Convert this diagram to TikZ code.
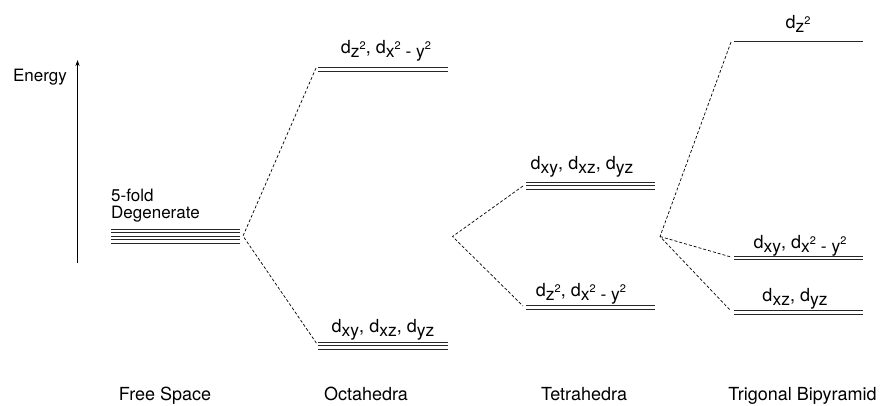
\documentclass[tikz,border=0pt]{standalone}
\usepackage{fontspec}
\setmainfont{TeX Gyre Heros}
\usetikzlibrary{arrows.meta}
\newcommand{\lowtxt}[1]{\raisebox{-0.45ex}{\fontsize{17.5}{17.5}\selectfont #1}}
\newcommand{\sqr}{\raisebox{0.8ex}{\fontsize{11}{11}\selectfont 2}}
\tikzset{
  level/.style={line width=1pt,black!85},
  split/.style={dash pattern=on 3pt off 2pt,line width=0.7pt},
  lbl/.style={anchor=base,inner sep=0pt},
  orb/.style={lbl,font=\fontsize{18}{18}\selectfont}
}
\begin{document}
\begin{tikzpicture}[x=1pt,y=-1pt,font=\fontsize{17}{18}\selectfont]
\useasboundingbox (0,0) rectangle (880,405);
% energy axis
\coordinate (e0) at (77.5,263);
\coordinate (e1) at (77.5,60);
\draw[-{Stealth[length=6pt,width=4pt]},line width=0.8pt] (e0) -- (e1);
\node[lbl,anchor=base east] (energy) at (67,81.5) {Energy};
% free space
\foreach \y in {229,232.5,236,239.5,243}
  \draw[level] (111,\y) -- (240,\y);
\node[lbl,anchor=base west] (deg1) at (111,201) {5-fold};
\node[lbl,anchor=base west] (deg2) at (111,218.5) {Degenerate};
\coordinate (fs) at (243,236);
% octahedra
\foreach \y in {67.5,71}
  \draw[level] (318,\y) -- (448,\y);
\foreach \y in {342,345.5,349}
  \draw[level] (318,\y) -- (448,\y);
\node[orb] (ochi) at (386,53) {d\lowtxt{z\sqr}, d\lowtxt{x\sqr\ - y\sqr}};
\node[orb] (oclo) at (383,332) {d\lowtxt{xy}, d\lowtxt{xz}, d\lowtxt{yz}};
\coordinate (octhi) at (316,68);
\coordinate (octlo) at (317,344);
% tetrahedra
\foreach \y in {182,185.5,189}
  \draw[level] (526,\y) -- (655,\y);
\foreach \y in {305.5,309}
  \draw[level] (526,\y) -- (655,\y);
\node[orb] (tthi) at (582,169) {d\lowtxt{xy}, d\lowtxt{xz}, d\lowtxt{yz}};
\node[orb] (ttlo) at (581,296) {d\lowtxt{z\sqr}, d\lowtxt{x\sqr\ - y\sqr}};
\coordinate (tet) at (452.5,236.5);
\coordinate (tethi) at (523,186);
\coordinate (tetlo) at (523,306);
% trigonal bipyramid
\draw[level] (734,41.5) -- (863,41.5);
\foreach \y in {256,259.5}
  \draw[level] (734,\y) -- (863,\y);
\foreach \y in {310.5,314}
  \draw[level] (734,\y) -- (863,\y);
\node[orb] (tbtop) at (798,28) {d\lowtxt{z\sqr}};
\node[orb] (tbmid) at (800,248) {d\lowtxt{xy}, d\lowtxt{x\sqr\ - y\sqr}};
\node[orb] (tbbot) at (795,301.5) {d\lowtxt{xz}, d\lowtxt{yz}};
\coordinate (tbp) at (660,236.5);
\coordinate (tbphi) at (731,42);
\coordinate (tbpmid) at (731,257);
\coordinate (tbplo) at (730,310);
% splitting
\draw[split] (octhi) -- (fs) -- (octlo);
\draw[split] (tethi) -- (tet) -- (tetlo);
\draw[split] (tbphi) -- (tbp) -- (tbplo);
\draw[split] (tbp) -- (tbpmid);
% geometry names
\node[lbl,font=\fontsize{18}{18}\selectfont] (free) at (165,400) {Free Space};
\node[lbl,font=\fontsize{18}{18}\selectfont] (octa) at (366,400) {Octahedra};
\node[lbl,font=\fontsize{18}{18}\selectfont] (tetra) at (584,400) {Tetrahedra};
\node[lbl,font=\fontsize{18}{18}\selectfont] (trig) at (802.5,400) {Trigonal Bipyramid};
\end{tikzpicture}
\end{document}
